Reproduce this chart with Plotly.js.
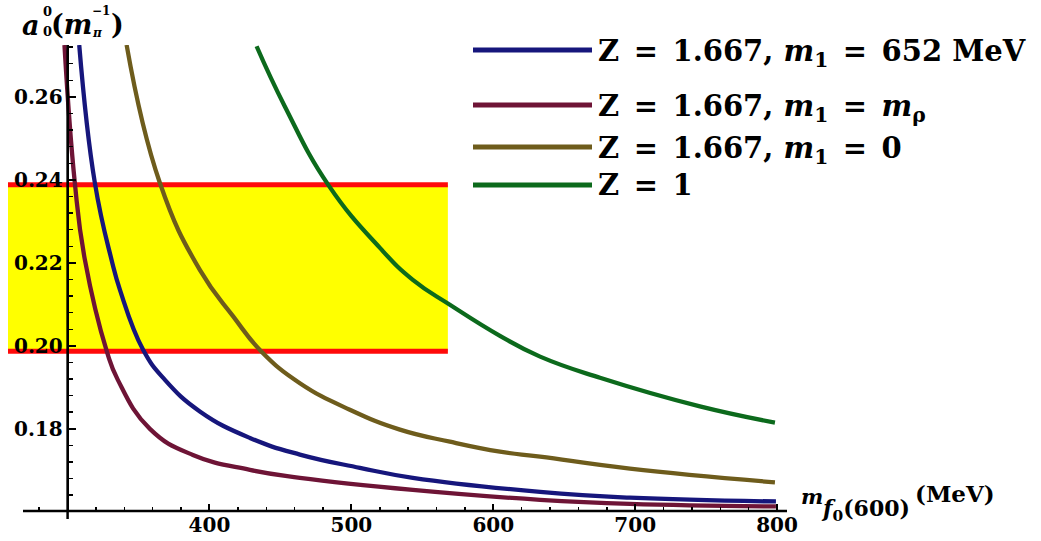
<!DOCTYPE html>
<html>
<head>
<meta charset="utf-8">
<script src="https://cdn.plot.ly/plotly-3.0.1.min.js"></script>
<style>html,body{margin:0;padding:0;background:#fff;}#chart{width:1041px;height:541px;}</style>
</head>
<body>
<div id="chart"></div>
<script>
// ---- data ----
const EQ = "\u2002=\u2002";
const seriesNames = [
  "<b>Z" + EQ + "1.667, <i>m</i><sub>1</sub>" + EQ + "652 MeV</b>",
  "<b>Z" + EQ + "1.667, <i>m</i><sub>1</sub>" + EQ + "<i>m</i><sub>ρ</sub></b>",
  "<b>Z" + EQ + "1.667, <i>m</i><sub>1</sub>" + EQ + "0</b>",
  "<b>Z" + EQ + "1</b>"
];
const seriesColors = ["#16167c", "#6e1436", "#6e5c1c", "#0c6a1c"];

const mBlue = [308.2, 319.2, 331.0, 336.9, 353.3, 368.6, 393.2, 428.5, 463.7, 506.0, 543.3, 633.0, 696.3, 799.2];
const aBlue = [0.2725, 0.2393, 0.2207, 0.2135, 0.1990, 0.1918, 0.1842, 0.1778, 0.1738, 0.1706, 0.1682, 0.1648, 0.1634, 0.1625];

const mMaroon = [297.8, 305.1, 312.2, 327.7, 335.4, 358.0, 388.3, 428.5, 463.7, 543.3, 633.0, 696.3, 799.2];
const aMaroon = [0.2725, 0.2393, 0.2207, 0.1986, 0.1918, 0.1800, 0.1737, 0.1701, 0.1682, 0.1653, 0.1629, 0.1619, 0.1613];

const mBrown = [341.6, 365.0, 393.2, 416.7, 436.7, 463.7, 498.9, 534.2, 569.4, 604.7, 633.0, 696.3, 798.5];
const aBrown = [0.2725, 0.2393, 0.2183, 0.2071, 0.1986, 0.1910, 0.1846, 0.1798, 0.1769, 0.1745, 0.1733, 0.1704, 0.1671];

const mGreen = [433.2, 453.1, 483.7, 520.1, 543.3, 569.4, 604.7, 633.0, 675.2, 745.6, 798.5];
const aGreen = [0.2722, 0.2577, 0.2388, 0.2236, 0.2159, 0.2099, 0.2024, 0.1974, 0.1923, 0.1854, 0.1815];

const bandX = [258, 568];
const bandLow = 0.1987;
const bandHigh = 0.2388;

const xTicks = [400, 500, 600, 700, 800];
const xTickText = ["400", "500", "600", "700", "800"];
const yTicks = [0.18, 0.20, 0.22, 0.24, 0.26];
const yTickText = ["0.18", "0.20", "0.22", "0.24", "0.26"];

// ---- layout helpers (pixel -> paper) ----
const L = 8, R = 787, T = 45, B = 511;
const px = v => (v - L) / (R - L);
const py = v => (B - v) / (B - T);
const serif = "DejaVu Serif, Liberation Serif, serif";

const traces = [];
traces.push({x: bandX, y: [bandLow, bandLow], mode: "lines", line: {color: "#ff0a0a", width: 5}, hoverinfo: "skip", showlegend: false});
traces.push({x: bandX, y: [bandHigh, bandHigh], mode: "lines", fill: "tonexty", fillcolor: "#ffff00", line: {color: "#ff0a0a", width: 5}, hoverinfo: "skip", showlegend: false});

const curves = [[mBlue, aBlue], [mMaroon, aMaroon], [mBrown, aBrown], [mGreen, aGreen]];
curves.forEach((c, i) => {
  traces.push({x: c[0], y: c[1], mode: "lines", name: seriesNames[i],
    line: {color: seriesColors[i], width: 4.3, shape: "spline", smoothing: 1.3}, showlegend: false});
});

const rowY = [50, 105, 147, 185];
const shapes = [];
const annotations = [];
rowY.forEach((y, i) => {
  shapes.push({type: "line", xref: "paper", yref: "paper", x0: px(473), x1: px(592), y0: py(y), y1: py(y),
    line: {color: seriesColors[i], width: 5}});
  annotations.push({xref: "paper", yref: "paper", x: px(596), y: py(y + (i < 3 ? 3 : 0)), xanchor: "left", yanchor: "middle",
    text: seriesNames[i], showarrow: false, font: {family: serif, size: 29, color: "#000"}});
});

// axis lines (Mathematica style)
shapes.push({type: "line", xref: "paper", yref: "paper", x0: px(23), x1: 1, y0: 0, y1: 0, line: {color: "#000", width: 2.5}});
shapes.push({type: "line", xref: "x", yref: "paper", x0: 300, x1: 300, y0: 1, y1: py(519), line: {color: "#000", width: 2.5}});

function ann(text, x, y, size, anchor) {
  annotations.push({xref: "paper", yref: "paper", x: px(x), y: py(y), xanchor: anchor || "left", yanchor: "middle",
    text: text, showarrow: false, font: {family: serif, size: size, color: "#000"}});
}
// y-axis title a_0^0 (m_pi^-1)
ann("<b><i>a</i></b>", 20, 25, 27);
ann("<b>0</b>", 41, 11, 13);
ann("<b>0</b>", 41, 31, 13);
ann("<b>(<i>m</i></b>", 49, 24, 27);
ann("<b><i>π</i></b>", 90, 33, 12);
ann("<b>−1</b>", 90, 11, 12);
ann("<b>)</b>", 109, 24, 27);
// x-axis title m_{f0(600)} (MeV)
ann("<b><i>m</i></b>", 799, 496, 21);
ann("<b><i>f</i><sub>0</sub>(600)</b>", 819, 510, 22);
ann("<b>(MeV)</b>", 913, 493, 23);

const minorX = [];
for (let v = 280; v <= 800; v += 20) { if (v % 100 !== 0) minorX.push(v); }

const layout = {
  width: 1041, height: 541,
  margin: {l: L, r: 1041 - R, t: T, b: 541 - B, pad: 0},
  paper_bgcolor: "#fff", plot_bgcolor: "#fff",
  showlegend: false,
  xaxis: {range: [258, 807], showgrid: false, zeroline: false, showline: false,
    tickmode: "array", tickvals: xTicks, ticktext: xTickText, ticks: "inside", ticklen: 7, tickwidth: 2, tickcolor: "#000",
    minor: {tickmode: "array", tickvals: minorX, ticks: "inside", ticklen: 4, tickwidth: 1.5, tickcolor: "#000", showgrid: false},
    tickfont: {family: serif, size: 20, color: "#000", weight: "bold"}},
  yaxis: {range: [0.1602, 0.2725], anchor: "free", position: px(67.7), showgrid: false, zeroline: false, showline: true,
    linecolor: "#000", linewidth: 2.5,
    tickmode: "array", tickvals: yTicks, ticktext: yTickText, ticks: "inside", ticklen: 7, tickwidth: 2, tickcolor: "#000",
    minor: {dtick: 0.004, tick0: 0, ticks: "inside", ticklen: 4, tickwidth: 1.5, tickcolor: "#000", showgrid: false},
    tickfont: {family: serif, size: 20, color: "#000", weight: "bold"}},
  shapes: shapes,
  annotations: annotations
};

Plotly.newPlot("chart", traces, layout, {displayModeBar: false, staticPlot: true});
</script>
</body>
</html>
